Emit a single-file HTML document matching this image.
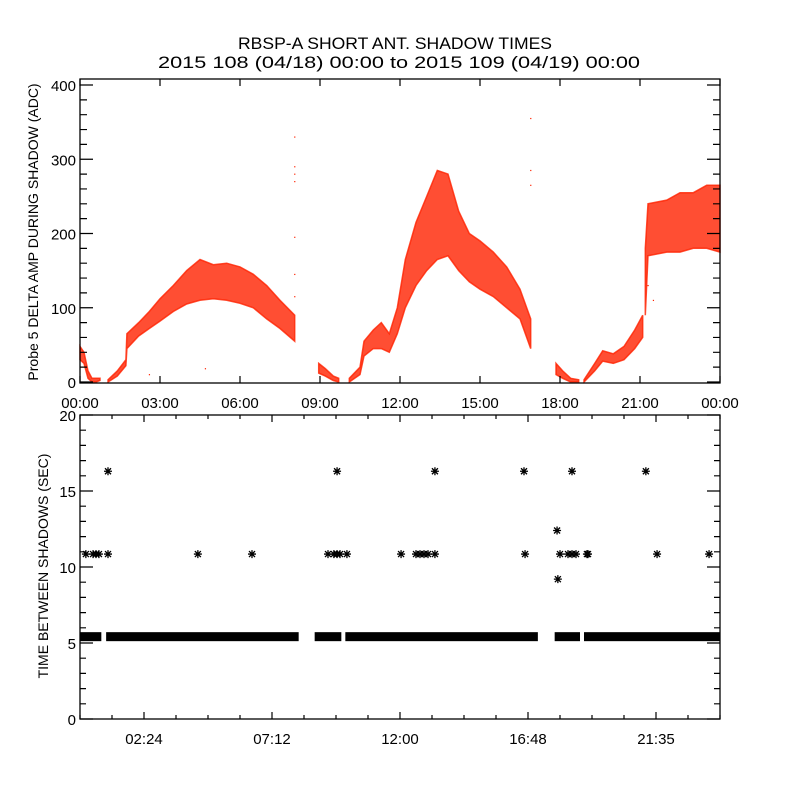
<!DOCTYPE html>
<html><head><meta charset="utf-8"><style>
html,body{margin:0;padding:0;background:#fff;}
svg{display:block;font-family:"Liberation Sans",sans-serif;}
</style></head><body>
<svg id="chart" width="800" height="800" viewBox="0 0 800 800">
<rect x="0" y="0" width="800" height="800" fill="#fff"/>
<text x="395" y="49" font-size="17" text-anchor="middle" textLength="314" lengthAdjust="spacingAndGlyphs">RBSP-A SHORT ANT. SHADOW TIMES</text>
<text x="399" y="68" font-size="17" text-anchor="middle" textLength="482" lengthAdjust="spacingAndGlyphs">2015 108 (04/18) 00:00 to 2015 109 (04/19) 00:00</text>
<g id="topPanel"></g>
<g id="botPanel"></g>
</svg>
<script>
// ---- Top panel data: shadow amplitude envelopes (hours, low, high) ----
const seg1Hours=[0,0.15,0.3,0.45,0.6,0.75];
const seg1Low=[30,25,5,0,0,2];
const seg1High=[48,40,15,5,5,5];
const seg2Hours=[1.05,1.4,1.72,1.76,2.2,2.6,3.0,3.5,4.0,4.5,5.0,5.5,6.0,6.5,7.0,7.5,8.05];
const seg2Low=[0,8,22,45,62,72,82,95,105,110,112,110,106,100,85,72,55];
const seg2High=[3,15,30,65,80,95,112,130,150,165,158,160,155,145,130,110,90];
const seg3Hours=[8.95,9.2,9.5,9.7];
const seg3Low=[12,8,2,0];
const seg3High=[25,18,8,5];
const seg4Hours=[10.1,10.5,10.65,11.0,11.3,11.6,11.9,12.2,12.6,13.0,13.4,13.8,14.2,14.6,15.0,15.5,16.0,16.5,16.9];
const seg4Low=[0,10,35,45,45,40,65,100,130,150,165,170,150,135,125,115,100,85,45];
const seg4High=[5,20,55,70,80,65,100,165,215,250,285,280,230,200,190,175,155,125,85];
const seg5Hours=[17.85,18.1,18.4,18.7];
const seg5Low=[10,5,0,0];
const seg5High=[25,15,5,3];
const seg6Hours=[18.9,19.3,19.6,20.0,20.4,20.8,21.1];
const seg6Low=[0,15,28,25,30,45,60];
const seg6High=[3,25,42,38,48,70,90];
const seg7Hours=[21.2,21.3,22,22.5,23,23.5,24];
const seg7Low=[90,170,175,175,180,180,175];
const seg7High=[180,240,245,255,255,265,265];
const outlierHours=[8.05,8.05,8.05,8.05,8.05,8.05,8.05,16.9,16.9,16.9,4.7,2.6,21.3,21.5];
const outlierValues=[330,290,280,270,195,145,115,355,285,265,18,10,130,110];
const topXTicks=["00:00","03:00","06:00","09:00","12:00","15:00","18:00","21:00","00:00"];
const topYTicks=[0,100,200,300,400];
// ---- Bottom panel data ----
const bandStart=[0,0.98,8.8,9.95,17.8,18.9];
const bandEnd=[0.8,8.2,9.8,17.17,18.75,24];
const bandValue=5.45;
const starHours=[0.22,0.49,0.6,0.71,1.05,1.05,4.42,6.45,9.3,9.52,9.64,9.75,10.01,9.64,12.04,12.6,12.75,12.9,13.05,13.31,13.31,16.65,16.69,17.89,17.92,18.0,18.3,18.45,18.6,18.45,19.01,19.05,21.22,21.64,23.59];
const starValues=[10.85,10.85,10.85,10.85,10.85,16.3,10.85,10.85,10.85,10.85,10.85,10.85,10.85,16.3,10.85,10.85,10.85,10.85,10.85,10.85,16.3,16.3,10.85,12.4,9.2,10.85,10.85,10.85,10.85,16.3,10.85,10.85,16.3,10.85,10.85];
const botXTicks=["02:24","07:12","12:00","16:48","21:35"];
const botYTicks=[0,5,10,15,20];

const NS="http://www.w3.org/2000/svg";
function mk(parent,tag,attrs){const e=document.createElementNS(NS,tag);for(const k in attrs)e.setAttribute(k,attrs[k]);parent.appendChild(e);return e;}
const X0=80,X1=720;
const xH=h=>X0+h*(X1-X0)/24;
const TT=79,TB=383;
const yT=v=>382-v*0.7425;
const BT=415,BB=719;
const yB=v=>BB-v*(BB-BT)/20;

const topG=document.getElementById('topPanel');
const botG=document.getElementById('botPanel');
const red="#ff2200";
const segs=[[seg1Hours,seg1Low,seg1High],[seg2Hours,seg2Low,seg2High],[seg3Hours,seg3Low,seg3High],[seg4Hours,seg4Low,seg4High],[seg5Hours,seg5Low,seg5High],[seg6Hours,seg6Low,seg6High],[seg7Hours,seg7Low,seg7High]];
segs.forEach((s,i)=>{
  const [hs,lo,hi]=s;
  let pts=[];
  for(let k=0;k<hs.length;k++)pts.push(xH(hs[k]).toFixed(1)+","+yT(hi[k]).toFixed(1));
  for(let k=hs.length-1;k>=0;k--)pts.push(xH(hs[k]).toFixed(1)+","+yT(lo[k]).toFixed(1));
  const p=mk(topG,'polygon',{points:pts.join(" "),fill:red,'fill-opacity':0.8,stroke:red,'stroke-width':1.5,'stroke-opacity':0.8});
  
  
});
outlierHours.forEach((h,i)=>{
  const r=mk(topG,'rect',{x:xH(h)-0.5,y:yT(outlierValues[i])-0.5,width:1.2,height:1.2,fill:red});
  
  
});
const tf=mk(topG,'rect',{x:X0,y:TT,width:X1-X0,height:TB-TT,fill:'none',stroke:'#000','stroke-width':1.3});


let tk="";
topXTicks.forEach((t,i)=>{const x=X0+i*80;tk+=`M${x},${TB}v-7M${x},${TT}v7`;
  const tx=mk(topG,'text',{x:x,y:408,'font-size':15,'text-anchor':'middle'});tx.textContent=t;
  
  });
for(let v=0;v<=400;v+=20){const y=yT(v);const L=(v%100===0)?13:7;tk+=`M${X0},${y}h${L}M${X1},${y}h-${L}`;}
mk(topG,'path',{d:tk,stroke:'#000','stroke-width':1.2,fill:'none'});
topYTicks.forEach(v=>{const tx=mk(topG,'text',{x:76,y:yT(v)+6,'font-size':15,'text-anchor':'end'});tx.textContent=v;
  
  });
const t1=mk(topG,'text',{x:0,y:0,'font-size':14,'text-anchor':'middle',transform:'translate(38,232) rotate(-90)'});
t1.textContent="Probe 5 DELTA AMP DURING SHADOW (ADC)";



bandStart.forEach((s,i)=>{
  const r=mk(botG,'rect',{x:xH(s),y:yB(bandValue)-4,width:xH(bandEnd[i])-xH(s),height:9,fill:'#000'});
  
  
});
starHours.forEach((h,i)=>{
  const cx=xH(h),cy=yB(starValues[i]),r=4;
  const g=mk(botG,'path',{d:`M${cx-r},${cy}h${2*r}M${cx},${cy-r}v${2*r}M${cx-3},${cy-3}l6,6M${cx-3},${cy+3}l6,-6`,stroke:'#000','stroke-width':1.3});
  
  
});
const bf=mk(botG,'rect',{x:X0,y:BT,width:X1-X0,height:BB-BT,fill:'none',stroke:'#000','stroke-width':1.3});


let bk="";
for(let i=0;i<=20;i++){const x=X0+i*32;const L=(i%4===2)?7:4;bk+=`M${x},${BB}v-${L}M${x},${BT}v${L}`;}
for(let v=0;v<=20;v++){const y=yB(v);const L=(v%5===0)?13:6;bk+=`M${X0},${y}h${L}M${X1},${y}h-${L}`;}
mk(botG,'path',{d:bk,stroke:'#000','stroke-width':1.2,fill:'none'});
botXTicks.forEach((t,i)=>{const tx=mk(botG,'text',{x:X0+64+i*128,y:744,'font-size':15,'text-anchor':'middle'});tx.textContent=t;
  
  });
botYTicks.forEach(v=>{const tx=mk(botG,'text',{x:76,y:yB(v)+6,'font-size':15,'text-anchor':'end'});tx.textContent=v;
  
  });
const t2=mk(botG,'text',{x:0,y:0,'font-size':14,'text-anchor':'middle',transform:'translate(48,566) rotate(-90)'});
t2.textContent="TIME BETWEEN SHADOWS (SEC)";


</script>
</body></html>
